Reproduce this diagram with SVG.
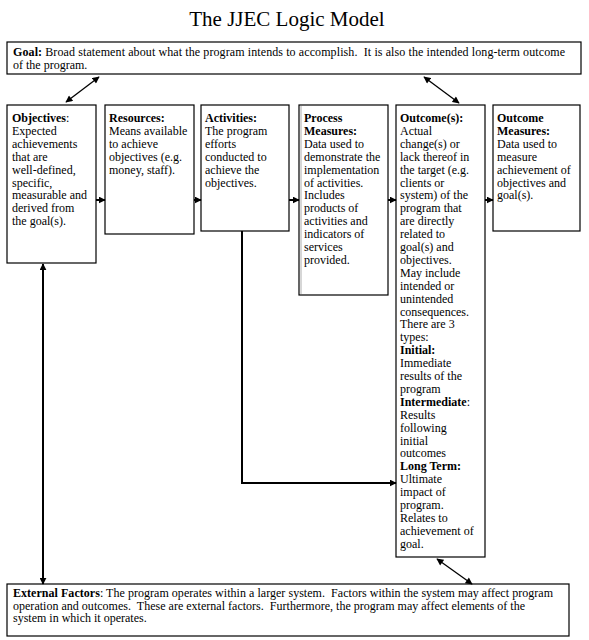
<svg xmlns="http://www.w3.org/2000/svg" width="589" height="640" viewBox="0 0 589 640">
<style>
text{font-family:"Liberation Serif","Times New Roman",serif;font-size:12px;fill:#000}
.b{font-weight:bold}
.box{fill:#fff;stroke:#000;stroke-width:1.2}
.c{fill:none;stroke:#000;stroke-width:2}
.d{fill:none;stroke:#000;stroke-width:1.3}
.title{font-size:21px}
</style>
<defs>
<marker id="ah" viewBox="0 0 10 10" refX="9" refY="5" markerWidth="7" markerHeight="7" orient="auto-start-reverse" markerUnits="userSpaceOnUse"><path d="M0,0 L10,5 L0,10 z"/></marker>
<marker id="ahs" viewBox="0 0 10 10" refX="9" refY="5" markerWidth="8" markerHeight="7" orient="auto-start-reverse" markerUnits="userSpaceOnUse"><path d="M0,0 L10,5 L0,10 z"/></marker>
</defs>
<rect width="589" height="640" fill="#fff"/>
<text class="title" x="287" y="26" text-anchor="middle">The JJEC Logic Model</text>

<g id="goal">
<rect class="box" x="7" y="42" width="574" height="32"/>
<text x="13" y="56" xml:space="preserve" textLength="552" lengthAdjust="spacing"><tspan class="b">Goal:</tspan> Broad statement about what the program intends to accomplish.  It is also the intended long-term outcome</text>
<text x="13" y="69">of the program.</text>
</g>

<g id="objectives">
<rect class="box" x="7" y="105" width="89" height="158"/>
<text x="12" y="122"><tspan class="b">Objectives</tspan>:</text>
<text x="12" y="134.9">Expected</text>
<text x="12" y="147.8">achievements</text>
<text x="12" y="160.7">that are</text>
<text x="12" y="173.6">well-defined,</text>
<text x="12" y="186.5">specific,</text>
<text x="12" y="199.4">measurable and</text>
<text x="12" y="212.3">derived from</text>
<text x="12" y="225.2">the goal(s).</text>
</g>

<g id="resources">
<rect class="box" x="105" y="105" width="89" height="129"/>
<text x="109" y="122" class="b">Resources:</text>
<text x="109" y="134.9">Means available</text>
<text x="109" y="147.8">to achieve</text>
<text x="109" y="160.7">objectives (e.g.</text>
<text x="109" y="173.6">money, staff).</text>
</g>

<g id="activities">
<rect class="box" x="201" y="105" width="88" height="126"/>
<text x="205" y="122" class="b">Activities:</text>
<text x="205" y="134.9">The program</text>
<text x="205" y="147.8">efforts</text>
<text x="205" y="160.7">conducted to</text>
<text x="205" y="173.6">achieve the</text>
<text x="205" y="186.5">objectives.</text>
</g>

<g id="process">
<rect class="box" x="299" y="105" width="89" height="190"/>
<line x1="301" y1="106" x2="301" y2="294" stroke="#999" stroke-width="0.8"/>
<text x="304" y="122" class="b">Process</text>
<text x="304" y="134.9" class="b">Measures:</text>
<text x="304" y="147.8">Data used to</text>
<text x="304" y="160.7">demonstrate the</text>
<text x="304" y="173.6">implementation</text>
<text x="304" y="186.5">of activities.</text>
<text x="304" y="199.4">Includes</text>
<text x="304" y="212.3">products of</text>
<text x="304" y="225.2">activities and</text>
<text x="304" y="238.1">indicators of</text>
<text x="304" y="251">services</text>
<text x="304" y="263.9">provided.</text>
</g>

<g id="outcomes">
<rect class="box" x="396" y="105" width="89" height="452"/>
<text x="400" y="122" class="b">Outcome(s):</text>
<text x="400" y="134.9">Actual</text>
<text x="400" y="147.8">change(s) or</text>
<text x="400" y="160.7">lack thereof in</text>
<text x="400" y="173.6">the target (e.g.</text>
<text x="400" y="186.5">clients or</text>
<text x="400" y="199.4">system) of the</text>
<text x="400" y="212.3">program that</text>
<text x="400" y="225.2">are directly</text>
<text x="400" y="238.1">related to</text>
<text x="400" y="251">goal(s) and</text>
<text x="400" y="263.9">objectives.</text>
<text x="400" y="276.8">May include</text>
<text x="400" y="289.7">intended or</text>
<text x="400" y="302.6">unintended</text>
<text x="400" y="315.5">consequences.</text>
<text x="400" y="328.4">There are 3</text>
<text x="400" y="341.3">types:</text>
<text x="400" y="354.2" class="b">Initial:</text>
<text x="400" y="367.1">Immediate</text>
<text x="400" y="380">results of the</text>
<text x="400" y="392.9">program</text>
<text x="400" y="405.8"><tspan class="b">Intermediate</tspan>:</text>
<text x="400" y="418.7">Results</text>
<text x="400" y="431.6">following</text>
<text x="400" y="444.5">initial</text>
<text x="400" y="457.4">outcomes</text>
<text x="400" y="470.3" class="b">Long Term:</text>
<text x="400" y="483.2">Ultimate</text>
<text x="400" y="496.1">impact of</text>
<text x="400" y="509">program.</text>
<text x="400" y="521.9">Relates to</text>
<text x="400" y="534.8">achievement of</text>
<text x="400" y="547.7">goal.</text>
</g>

<g id="outcome-measures">
<rect class="box" x="493" y="105" width="87" height="126"/>
<text x="497" y="122" class="b">Outcome</text>
<text x="497" y="134.9" class="b">Measures:</text>
<text x="497" y="147.8">Data used to</text>
<text x="497" y="160.7">measure</text>
<text x="497" y="173.6">achievement of</text>
<text x="497" y="186.5">objectives and</text>
<text x="497" y="199.4">goal(s).</text>
</g>

<g id="external">
<rect class="box" x="7" y="584" width="562" height="52"/>
<text x="13" y="597" xml:space="preserve" textLength="540" lengthAdjust="spacing"><tspan class="b">External Factors</tspan>: The program operates within a larger system.  Factors within the system may affect program</text>
<text x="13" y="609.5" xml:space="preserve" textLength="512" lengthAdjust="spacing">operation and outcomes.  These are external factors.  Furthermore, the program may affect elements of the</text>
<text x="13" y="622">system in which it operates.</text>
</g>

<g id="connectors">
<line class="d" x1="99" y1="77" x2="66" y2="102" marker-start="url(#ahs)" marker-end="url(#ahs)"/>
<line class="d" x1="424" y1="77" x2="459" y2="103" marker-start="url(#ahs)" marker-end="url(#ahs)"/>
<line class="c" x1="96" y1="200" x2="105" y2="200" marker-end="url(#ah)"/>
<line class="c" x1="194" y1="200" x2="201" y2="200" marker-end="url(#ah)"/>
<line class="c" x1="289" y1="200" x2="299" y2="200" marker-end="url(#ah)"/>
<line class="c" x1="388" y1="200" x2="396" y2="200" marker-end="url(#ah)"/>
<line class="c" x1="485" y1="200" x2="493" y2="200" marker-end="url(#ah)"/>
<polyline class="c" points="242,231 242,483 396,483" marker-end="url(#ah)"/>
<line class="c" x1="43" y1="264" x2="43" y2="584" marker-start="url(#ah)" marker-end="url(#ah)"/>
<line class="d" x1="437" y1="559" x2="472" y2="584" marker-start="url(#ahs)" marker-end="url(#ahs)"/>
</g>
</svg>
